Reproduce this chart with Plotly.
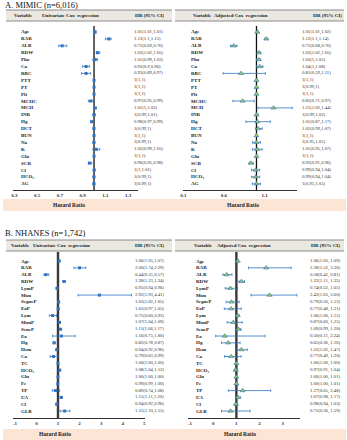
import plotly.graph_objects as go

W, H = 347, 440
SERIF = "Liberation Serif, Times New Roman, serif"

# ---------------- DATA ----------------
mimic_vars = ["Age", "RAR", "ALB", "RDW", "Pho", "Ca", "RBC", "PTT", "PT", "Plt", "MCHC", "MCH",
              "INR", "Hg", "HCT", "BUN", "Na", "K", "Glu", "SCR", "Cl", "HCO₃", "AG"]
mimic_uni_hr = [1.01, 1.13, 0.72, 1.03, 1.01, 0.93, 0.93, 1, 1, 1, 0.97, 1.01,
                1, 0.98, 1, 1, 1, 1.02, 1, 0.96, 1, 1, 1]
mimic_uni_lo = [1.01, 1.1, 0.69, 1.02, 0.99, 0.9, 0.89, 1, 1, 1, 0.95, 1,
                0.99, 0.97, 0.99, 1, 0.99, 0.99, 1, 0.95, 1, 0.99, 0.99]
mimic_uni_hi = [1.01, 1.15, 0.76, 1.05, 1.03, 0.96, 0.97, 1, 1, 1, 0.99, 1.02,
                1.01, 0.99, 1, 1, 1, 1.05, 1, 0.98, 1.01, 1, 1]
mimic_adj_hr = [1.01, 1.12, 0.72, 1.03, 1.03, 1.04, 0.81, 1, 1, 1, 0.83, 1.21,
                1, 1.01, 1.02, 1, 1, 1.01, 1, 0.93, 0.99, 0.99, 1]
mimic_adj_lo = [1.01, 1.1, 0.68, 1.02, 1, 1, 0.59, 1, 0.99, 1, 0.71, 1.02,
                0.99, 0.87, 0.99, 1, 0.95, 0.95, 1, 0.91, 0.94, 0.94, 0.95]
mimic_adj_hi = [1.02, 1.14, 0.76, 1.05, 1.05, 1.08, 1.11, 1, 1, 1, 0.97, 1.44,
                1.02, 1.17, 1.07, 1, 1.05, 1.07, 1, 0.96, 1.04, 1.04, 1.05]

nhanes_vars = ["Age", "RAR", "ALB", "RDW", "LymP", "Mon", "SegneP", "EoP", "Lym", "MonP", "SeneP", "Eo",
               "Hg", "Hem", "Ca", "TC", "HCO₃", "Glu", "Fe", "TP", "UA", "Cl", "GLB"]
nhanes_uni_hr = [1.06, 2.00, 0.44, 1.28, 0.95, 2.92, 1.03, 1.01, 0.75, 1.07, 1.11, 1.16,
                 0.82, 0.94, 0.79, 1.00, 1.08, 1.00, 0.99, 0.89, 1.15, 0.94, 1.31]
nhanes_uni_lo = [1.05, 1.74, 0.35, 1.23, 0.94, 1.93, 1.02, 0.97, 0.60, 1.04, 1.06, 0.75,
                 0.78, 0.92, 0.63, 1.00, 1.04, 1.00, 0.99, 0.74, 1.11, 0.92, 1.10]
nhanes_uni_hi = [1.07, 2.29, 0.57, 1.34, 0.96, 4.41, 1.05, 1.05, 0.93, 1.09, 1.17, 1.80,
                 0.87, 0.96, 0.99, 1.00, 1.12, 1.00, 1.00, 1.08, 1.20, 0.96, 1.55]
nhanes_adj_hr = [1.06, 2.28, 0.58, 1.22, 0.74, 2.43, 0.79, 0.77, 1.06, 0.87, 1.09, 0.50,
                 0.65, 1.22, 0.77, 1.00, 0.97, 1.00, 1.00, 1.27, 1.07, 0.98, 0.75]
nhanes_adj_lo = [1.03, 1.52, 0.42, 1.11, 0.52, 1.63, 0.56, 0.48, 1.00, 0.60, 0.99, 0.11,
                 0.36, 1.02, 0.49, 1.00, 0.91, 1.00, 1.00, 0.65, 0.98, 0.94, 0.36]
nhanes_adj_hi = [1.09, 3.36, 0.81, 1.35, 1.05, 3.60, 1.12, 1.21, 1.12, 1.25, 1.20, 2.24,
                 1.16, 1.47, 1.20, 1.00, 1.04, 1.01, 1.01, 2.48, 1.17, 1.03, 1.59]

mimic_uni_ticks = [0.3, 0.5, 0.7, 0.9, 1.1, 1.3]
mimic_adj_ticks = [0.1, 0.6, 1.1]
nhanes_uni_ticks = [-1, 0, 1, 2, 3, 4, 5]
nhanes_adj_ticks = [-1, 0, 1, 2, 3]


def fmt_g(h, l, u):
    return f"{h:g}({l:g},{u:g})"


def fmt_2(h, l, u):
    return f"{h:.2f}({l:.2f},{u:.2f})"


def fmt_2s(h, l, u):
    return f"{h:.2f}({l:.2f}, {u:.2f})"


# ---------------- LAYOUT HELPERS ----------------
def pxx(x):
    return x / W


def pyy(y):
    return 1 - y / H


BLUE = "#2f74c0"
GREEN = "#9bc94f"
HEAD_FS = 5.0

panels = [
    dict(vars=mimic_vars, hr=mimic_uni_hr, lo=mimic_uni_lo, hi=mimic_uni_hi, fmt=fmt_g,
         ticks=mimic_uni_ticks, xr=(0.287, 1.39), xdom=(10, 137), top=26, bot=190, row0=32, step=6.9,
         lab_x=16, hr_x=131, adj=False, vline_w=1.3, vline_c="#111111",
         band=(3, 171, 10, 21), head=[("Variable", 9), ("Univariate Cox  regression", 37), ("HR (95% CI)", 132)],
         hrband=(0, 173, 199, 211), hr_cy=205, hr_cx=67),
    dict(vars=mimic_vars, hr=mimic_adj_hr, lo=mimic_adj_lo, hi=mimic_adj_hi, fmt=fmt_g,
         ticks=mimic_adj_ticks, xr=(0.1, 1.5), xdom=(182.5, 297.5), top=26, bot=190, row0=32, step=6.9,
         lab_x=188, hr_x=300, adj=True, vline_w=1.3, vline_c="#111111",
         band=(174, 345, 10, 21), head=[("Variable", 190), ("Adjusted Cox  regression", 211), ("HR (95% CI)", 312)],
         hrband=(173, 347, 199, 211), hr_cy=205, hr_cx=243),
    dict(vars=nhanes_vars, hr=nhanes_uni_hr, lo=nhanes_uni_lo, hi=nhanes_uni_hi, fmt=fmt_2,
         ticks=nhanes_uni_ticks, xr=(-1.1, 5.05), xdom=(9.8, 144), top=252, bot=418, row0=261, step=6.82,
         lab_x=16, hr_x=132, adj=False, vline_w=2.4, vline_c="#3a3a3a",
         band=(3, 171, 240, 251), head=[("Variable", 6), ("Univariate Cox  regression", 28), ("HR (95% CI)", 132)],
         hrband=(0, 173, 429, 440), hr_cy=434, hr_cx=53),
    dict(vars=nhanes_vars, hr=nhanes_adj_hr, lo=nhanes_adj_lo, hi=nhanes_adj_hi, fmt=fmt_2s,
         ticks=nhanes_adj_ticks, xr=(-1.09, 3.72), xdom=(187, 300), top=252, bot=418, row0=261, step=6.82,
         lab_x=193, hr_x=309, adj=True, vline_w=2.4, vline_c="#3a3a3a",
         band=(174, 345, 240, 251), head=[("Variable", 191), ("Adjusted Cox  regression", 214), ("HR (95% CI)", 310)],
         hrband=(173, 347, 429, 440), hr_cy=434, hr_cx=240),
]

fig = go.Figure()
shapes = []
annotations = []
layout_axes = {}

for k, p in enumerate(panels):
    idx = "" if k == 0 else str(k + 1)
    xa, ya = "x" + idx, "y" + idx
    n = len(p["vars"])
    rows = list(range(n))
    top_val = -(p["row0"] - p["top"]) / p["step"]
    bot_val = (p["bot"] - p["row0"]) / p["step"]

    layout_axes["xaxis" + idx] = dict(
        domain=[pxx(p["xdom"][0]), pxx(p["xdom"][1])], range=list(p["xr"]), anchor=ya,
        showgrid=False, zeroline=False, showline=True, linecolor="#333333", linewidth=1.3,
        ticks="", tickvals=p["ticks"], ticktext=[f"<b>{t:g}</b>" for t in p["ticks"]],
        tickfont=dict(family=SERIF, size=5, color="#333333"), fixedrange=True)
    layout_axes["yaxis" + idx] = dict(
        domain=[pyy(p["bot"]), pyy(p["top"])], range=[bot_val, top_val], anchor=xa,
        visible=False, fixedrange=True)

    # reference line at HR = 1
    shapes.append(dict(type="line", xref=xa, yref=ya + " domain", x0=1, x1=1, y0=0, y1=1,
                       line=dict(color=p["vline_c"], width=p["vline_w"]), layer="below"))

    if p["adj"]:
        marker = dict(symbol="triangle-up", size=4.5, color=GREEN, line=dict(color=BLUE, width=0.6))
    else:
        marker = dict(symbol="square", size=3, color=BLUE, line=dict(width=0))

    fig.add_trace(go.Scatter(
        x=p["hr"], y=rows, xaxis=xa, yaxis=ya, mode="markers", marker=marker,
        error_x=dict(type="data", symmetric=False,
                     array=[u - h for h, u in zip(p["hr"], p["hi"])],
                     arrayminus=[h - l for h, l in zip(p["hr"], p["lo"])],
                     color=BLUE, thickness=0.8, width=1.3),
        showlegend=False, hoverinfo="skip", cliponaxis=False))

    for i, v in enumerate(p["vars"]):
        annotations.append(dict(text="<b>" + v + "</b>", xref="paper", yref=ya, x=pxx(p["lab_x"]), y=i,
                                xanchor="left", yanchor="middle", showarrow=False,
                                font=dict(family=SERIF, size=5, color="#1a1a1a")))
        annotations.append(dict(text=p["fmt"](p["hr"][i], p["lo"][i], p["hi"][i]), xref="paper", yref=ya,
                                x=pxx(p["hr_x"]), y=i, xanchor="left", yanchor="middle", showarrow=False,
                                font=dict(family=SERIF, size=4.7, color="#333333")))

    # header band
    bx0, bx1, by0, by1 = p["band"]
    shapes.append(dict(type="rect", xref="paper", yref="paper", x0=pxx(bx0), x1=pxx(bx1),
                       y0=pyy(by1), y1=pyy(by0), fillcolor="#ebe8e2", line=dict(width=0), layer="below"))
    shapes.append(dict(type="line", xref="paper", yref="paper", x0=pxx(bx0), x1=pxx(bx1),
                       y0=pyy(by0), y1=pyy(by0), line=dict(color="#8a8a8a", width=1)))
    shapes.append(dict(type="line", xref="paper", yref="paper", x0=pxx(bx0), x1=pxx(bx1),
                       y0=pyy(by1), y1=pyy(by1), line=dict(color="#8a8a8a", width=1)))
    for txt, hx in p["head"]:
        annotations.append(dict(text="<b>" + txt + "</b>", xref="paper", yref="paper", x=pxx(hx),
                                y=pyy((by0 + by1) / 2), xanchor="left", yanchor="middle", showarrow=False,
                                font=dict(family=SERIF, size=HEAD_FS, color="#1a1a1a")))

    # hazard ratio band
    hx0, hx1, hy0, hy1 = p["hrband"]
    shapes.append(dict(type="rect", xref="paper", yref="paper", x0=pxx(hx0), x1=pxx(hx1),
                       y0=pyy(hy1), y1=pyy(hy0), fillcolor="#fce5d5", line=dict(width=0), layer="below"))
    annotations.append(dict(text="<b>Hazard Ratio</b>", xref="paper", yref="paper", x=pxx(p["hr_cx"]),
                            y=pyy(p["hr_cy"]), xanchor="center", yanchor="middle", showarrow=False,
                            font=dict(family=SERIF, size=5.5, color="#1a1a1a")))

annotations.append(dict(text="A. MIMIC (n=6,016)", xref="paper", yref="paper", x=0, y=pyy(5),
                        xanchor="left", yanchor="middle", showarrow=False,
                        font=dict(family=SERIF, size=8.5, color="#111111")))
annotations.append(dict(text="B. NHANES (n=1,742)", xref="paper", yref="paper", x=0, y=pyy(233),
                        xanchor="left", yanchor="middle", showarrow=False,
                        font=dict(family=SERIF, size=8.5, color="#111111")))

fig.update_layout(width=W, height=H, margin=dict(l=0, r=0, t=0, b=0),
                  paper_bgcolor="white", plot_bgcolor="rgba(0,0,0,0)",
                  shapes=shapes, annotations=annotations, **layout_axes)

fig.write_html("out.html", config=dict(displayModeBar=False),
               post_script="document.body.style.margin='0';document.body.style.overflow='hidden';")
